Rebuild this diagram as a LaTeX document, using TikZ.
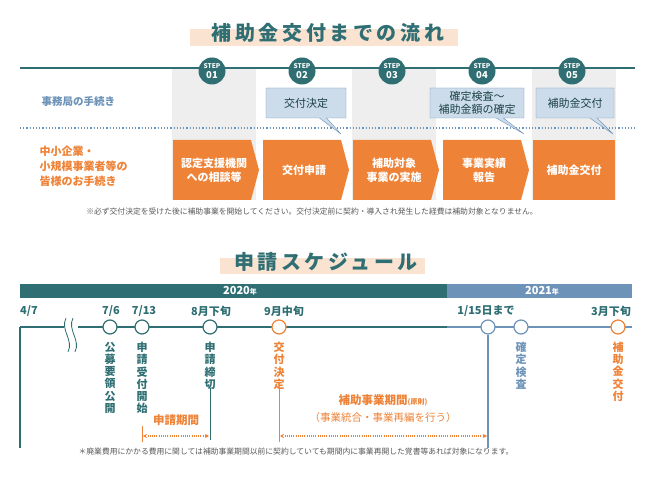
\documentclass[tikz,border=0pt]{standalone}
\usepackage{fontspec}
\setmainfont{Noto Sans CJK JP}
\usepackage{tikz}
\usetikzlibrary{positioning,shapes.callouts,arrows.meta}
\definecolor{teal1}{HTML}{2F6F73}
\definecolor{blue1}{HTML}{6E93B8}
\definecolor{bluefill}{HTML}{CCDCEB}
\definecolor{orange1}{HTML}{EE8236}
\definecolor{peach}{HTML}{FBE3D2}
\definecolor{greycol}{HTML}{EEEEEE}
\newcommand{\fs}[1]{\fontsize{#1}{#1}\selectfont}
% chevron box: name, left x, text
\newcommand{\chev}[3]{%
  \fill[orange1] (#2,140) -- (#2+78,140) -- (#2+86,170) -- (#2+78,200) -- (#2,200) -- cycle;
  \node[flowtext] (#1) at (#2+41,170) {#3};}
\tikzset{
  titletext/.style={font=\fs{20}\bfseries\addfontfeature{LetterSpace=18}, text=teal1},
  stepcirc/.style={circle, fill=teal1, minimum size=27pt, inner sep=0pt},
  steptext/.style={text=white, inner sep=0pt, font=\fs{#1}\bfseries},
  flowtext/.style={text=white, font=\fontsize{11}{14}\selectfont\bfseries, align=center},
  callbox/.style={rectangle callout, draw=blue1, fill=bluefill, text=teal1!60!black, minimum height=30pt, font=\fontsize{11}{13}\selectfont, align=center, inner sep=2pt},
  tlcirc/.style={circle, draw=#1, fill=white, line width=1.2pt, minimum size=14pt, inner sep=0pt},
  datelabel/.style={font=\fs{11}\bfseries, text=teal1},
  tatelabel/.style={font=\fontsize{11}{12.2}\selectfont\bfseries, align=center, anchor=north, inner sep=0pt},
  note/.style={font=\fs{7.8}, text=black!65},
  period/.style={orange1, dash pattern=on 1pt off 1.2pt, line width=1.4pt, {Stealth[length=4pt,width=4pt]}-{Stealth[length=4pt,width=4pt]}}
}
\begin{document}
\begin{tikzpicture}[x=1pt,y=-1pt]
\useasboundingbox[fill=white] (0,0) rectangle (650,478);
% flow
\fill[peach] (190,29) rectangle (458,46);
\node[titletext] (title1) at (328,33) {補助金交付までの流れ};
\fill[greycol] (172,68) rectangle (256,200);
\fill[greycol] (352,68) rectangle (436,200);
\fill[greycol] (532,68) rectangle (616,200);
\draw[teal1, line width=1.5pt] (20,68) coordinate (l1) -- (635,68) coordinate (r1);
\foreach \i/\x in {1/212,2/302,3/392,4/482,5/572}{
  \node[stepcirc] (step\i) at (\x,71) {};
  \node[steptext=6.5] (stept\i) at ([yshift=5pt]step\i.center) {STEP};
  \node[steptext=9.5] (stepn\i) at ([yshift=-4pt]step\i.center) {0\i};
}
\node[font=\fs{10.5}\bfseries, text=blue1, anchor=west] (office) at (38,102) {事務局の手続き};
\draw[blue1, dotted, line width=1.2pt] (20,128) coordinate (l2) -- (635,128) coordinate (r2);
\node[font=\fontsize{11}{15}\selectfont\bfseries, text=orange1, anchor=west, align=left] (firms) at (36,166) {中小企業・\\小規模事業者等の\\皆様のお手続き};
\chev{f1}{173}{認定支援機関\\への相談等}
\chev{f2}{263}{交付申請}
\chev{f3}{353}{補助対象\\事業の実施}
\chev{f4}{443}{事業実績\\報告}
\fill[orange1] (533,140) rectangle (615,200);
\node[flowtext] (f5) at (574,170) {補助金交付};
\node[callbox, minimum width=80pt, callout absolute pointer={(341,134)}] (c2) at (306,103) {交付決定};
\node[callbox, minimum width=94pt, callout absolute pointer={(524,134)}] (c4) at (477,103) {確定検査〜\\補助金額の確定};
\node[callbox, minimum width=78pt, callout absolute pointer={(613,134)}] (c5) at (575,103) {補助金交付};
\node[note] (note1) at (312,212) {※必ず交付決定を受けた後に補助事業を開始してください。交付決定前に契約・導入され発生した経費は補助対象となりません。};
% schedule
\fill[peach] (220,258) rectangle (425,274);
\node[titletext] (title2) at (326,262) {申請スケジュール};
\fill[teal1] (20,284) rectangle (447,298);
\fill[blue1] (447,284) rectangle (632,298);
\node[text=white, font=\fs{11}\bfseries] (y20) at (240,291) {2020{\fs{7}年}};
\node[text=white, font=\fs{11}\bfseries] (y21) at (542,291) {2021{\fs{7}年}};
\node[datelabel] (d0) at (29,311) {4/7};
\node[datelabel] (d1) at (111,311) {7/6};
\node[datelabel] (d2) at (144,311) {7/13};
\node[datelabel] (d3) at (211,311) {8月下旬};
\node[datelabel] (d4) at (284,311) {9月中旬};
\node[datelabel] (d5) at (486,311) {1/15日まで};
\node[datelabel] (d6) at (611,311) {3月下旬};
\coordinate (t0) at (20,327);
\coordinate (tb) at (447,327);
\coordinate (te) at (632,327);
\draw[teal1, line width=1.5pt] (t0) -- (tb);
\draw[blue1, line width=1.5pt] (tb) -- (te);
\draw[teal1, line width=1.5pt] (t0) -- (20,448) coordinate (tbot);
\fill[white] (64,320) rectangle (78,350);
\draw[teal1, line width=0.8pt] (66,318) .. controls (60,330) and (74,340) .. (68,352);
\draw[teal1, line width=0.8pt] (73,318) .. controls (67,330) and (81,340) .. (75,352);
\node[tlcirc=teal1] (e1) at (110,327) {};
\node[tlcirc=teal1] (e2) at (142,327) {};
\node[tlcirc=teal1] (e3) at (210,327) {};
\node[tlcirc=orange1] (e4) at (279,327) {};
\node[tlcirc=blue1] (e5) at (488,327) {};
\node[tlcirc=blue1] (e6) at (521,327) {};
\node[tlcirc=orange1] (e7) at (618,327) {};
\node[tatelabel, text=teal1] (v1) at (110,342) {公\\募\\要\\領\\公\\開};
\node[tatelabel, text=teal1] (v2) at (142,342) {申\\請\\受\\付\\開\\始};
\node[tatelabel, text=teal1] (v3) at (210,342) {申\\請\\締\\切};
\node[tatelabel, text=orange1] (v4) at (279,342) {交\\付\\決\\定};
\node[tatelabel, text=blue1] (v6) at (521,342) {確\\定\\検\\査};
\node[tatelabel, text=orange1] (v7) at (618,342) {補\\助\\金\\交\\付};
\draw[blue1, line width=1.2pt] (e5) -- (488,448);
\draw[teal1, line width=0.8pt] (210,388) -- (210,440);
\draw[orange1, line width=0.8pt] (279,388) -- (279,442);
\draw[orange1, line width=0.8pt] (142,426) -- (142,442);
\node[font=\fs{11.5}\bfseries, text=orange1] (p1) at (176,420) {申請期間};
\draw[period] (143,436) -- (209,436);
\node[font=\fs{11.5}\bfseries, text=orange1] (p2) at (383,400) {補助事業期間{\fs{7}(原則)}};
\node[font=\fs{10.5}, text=orange1] (p3) at (383,418) {（事業統合・事業再編を行う）};
\draw[period] (280,436) -- (487,436);
\node[note] (note2) at (296,452) {＊廃業費用にかかる費用に関しては補助事業期間以前に契約していても期間内に事業再開した覚書等あれば対象になります。};
\end{tikzpicture}
\end{document}
